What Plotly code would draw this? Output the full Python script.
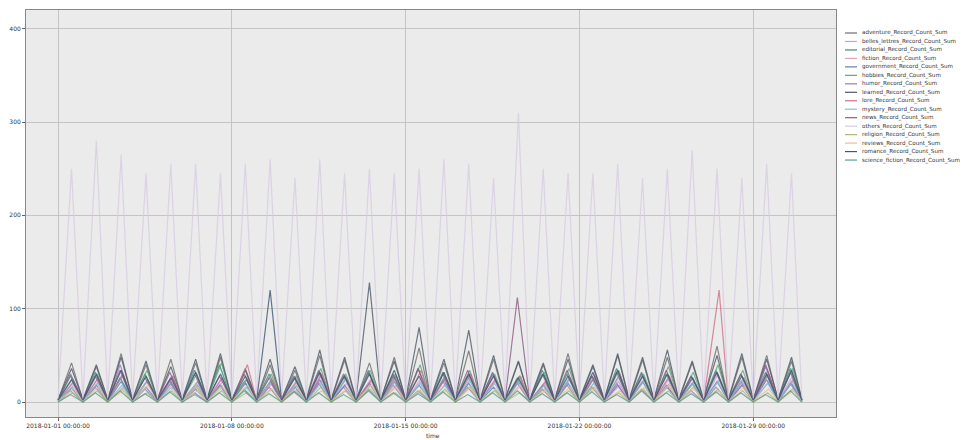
import plotly.graph_objects as go
import pandas as pd

# ---- data (daily peaks per series, Jan 1 .. Jan 30 2018) ----
days = pd.date_range("2018-01-01", periods=30, freq="D")
end_time = "2018-01-30 23:00:00"

series_names = [
    "adventure_Record_Count_Sum", "belles_lettres_Record_Count_Sum", "editorial_Record_Count_Sum",
    "fiction_Record_Count_Sum", "government_Record_Count_Sum", "hobbies_Record_Count_Sum",
    "humor_Record_Count_Sum", "learned_Record_Count_Sum", "lore_Record_Count_Sum",
    "mystery_Record_Count_Sum", "news_Record_Count_Sum", "others_Record_Count_Sum",
    "religion_Record_Count_Sum", "reviews_Record_Count_Sum", "romance_Record_Count_Sum",
    "science_fiction_Record_Count_Sum",
]

adventure = [42,38,52,40,46,42,48,36,40,34,50,45,42,48,58,42,55,46,43,40,52,38,50,45,48,42,60,48,50,44]
belles_lettres = [20,25,30,22,28,18,26,24,20,22,30,26,24,28,22,26,30,24,28,20,26,30,22,28,24,26,30,22,34,28]
editorial = [28,32,26,30,24,34,40,22,30,26,32,28,34,30,36,32,28,30,26,34,30,28,36,32,30,28,34,30,32,36]
fiction = [18,22,16,24,20,18,22,26,20,18,24,20,22,18,26,20,24,22,18,20,26,22,18,24,20,22,24,20,22,26]
government = [15,18,22,16,20,14,18,20,22,16,24,18,20,22,18,24,20,16,22,18,20,24,18,22,16,20,22,18,24,20]
hobbies = [25,30,28,34,26,30,42,24,30,28,36,30,34,30,40,28,34,30,28,32,36,26,34,30,38,32,40,34,30,36]
humor = [12,16,40,14,22,10,18,14,16,12,20,16,14,18,12,22,16,30,20,14,18,16,20,14,18,12,16,22,38,20]
learned = [36,40,48,44,38,46,52,34,46,38,56,48,128,44,80,46,77,50,44,42,46,40,52,48,56,44,50,52,46,48]
lore = [22,26,30,24,28,22,26,40,24,22,30,26,24,28,34,26,30,24,28,22,26,28,30,24,28,22,120,26,30,24]
mystery = [16,20,18,22,16,20,18,16,22,18,20,24,18,22,20,18,24,20,22,18,24,20,26,22,18,20,22,24,20,22]
news = [30,28,34,26,32,30,28,30,26,28,34,30,32,28,36,30,34,32,112,30,34,28,32,30,34,28,32,30,40,32]
others = [250,280,265,245,255,255,245,255,260,240,260,245,250,245,250,260,255,240,310,250,245,245,255,240,250,270,250,240,255,245]
religion = [10,12,14,10,12,16,12,10,14,12,16,12,14,10,12,14,16,12,10,14,12,16,10,14,12,16,14,12,10,14]
reviews = [14,16,12,18,14,12,16,18,14,16,12,14,18,16,14,12,16,14,18,12,16,14,12,16,18,14,12,16,14,12]
romance = [24,30,34,28,26,32,30,28,120,26,32,28,30,34,28,32,30,28,26,30,28,32,34,28,30,26,32,28,30,34]
science_fiction = [8,10,12,9,11,8,10,12,9,11,10,8,12,10,9,11,8,10,12,9,10,11,8,12,10,9,11,10,8,12]

peaks = [adventure, belles_lettres, editorial, fiction, government, hobbies, humor, learned,
         lore, mystery, news, others, religion, reviews, romance, science_fiction]
troughs = [2, 1, 2, 1, 1, 2, 0, 3, 1, 1, 2, 3, 0, 1, 2, 0]
peak_hours = [13, 14, 12, 15, 13, 14, 12, 13, 15, 14, 12, 13, 14, 15, 13, 12]

colors = ["#6e6e6e", "#c9a0dc", "#3f8a78", "#e8a0b8", "#5b7fc0", "#5caa7a", "#9a78c0", "#4d5a6a",
          "#d0708a", "#7cc4d0", "#8c5c88", "#d9cce4", "#a8bc78", "#e8c08c", "#3a5878", "#58a090"]

fig = go.Figure()
for name, pk, tr, ph, col in zip(series_names, peaks, troughs, peak_hours, colors):
    xs, ys = [], []
    for d, p in zip(days, pk):
        xs += [d, d + pd.Timedelta(hours=ph)]
        ys += [tr, p]
    xs.append(pd.Timestamp(end_time))
    ys.append(tr)
    fig.add_trace(go.Scatter(x=xs, y=ys, mode="lines", name=name, showlegend=False,
                             line=dict(color=col, width=1.2), opacity=0.8))

# page layout (page has an 8px body margin, so the figure is offset by 8px)
OFF = 8
PL, PR, PT, PB = 26, 836, 10, 417          # plot area in page pixels
W, H = 974 - OFF, 440 - OFF
pw, ph_ = PR - PL, PB - PT

def px(X):
    return (X - PL) / pw

def py(Y):
    return (PB - Y) / ph_

leg_top, leg_step = 33, 8.47
shapes, annos = [], []
for i, (name, col) in enumerate(zip(series_names, colors)):
    ypix = leg_top + i * leg_step
    shapes.append(dict(type="line", xref="paper", yref="paper",
                       x0=px(845), x1=px(857), y0=py(ypix), y1=py(ypix),
                       line=dict(color=col, width=1.2)))
    annos.append(dict(xref="paper", yref="paper", x=px(860), y=py(ypix),
                      xanchor="left", yanchor="middle", text=name, showarrow=False,
                      font=dict(size=5.6, color="#333")))
annos.append(dict(xref="paper", yref="paper", x=px(433), y=py(435),
                  xanchor="center", yanchor="middle", text="time", showarrow=False,
                  font=dict(size=6, color="#333")))

tickvals = pd.date_range("2018-01-01", periods=5, freq="7D")
fig.update_layout(
    width=W, height=H,
    margin=dict(l=PL - OFF, r=974 - PR, t=PT - OFF, b=440 - PB, autoexpand=False),
    paper_bgcolor="white", plot_bgcolor="#ebebeb",
    font=dict(family="DejaVu Sans", size=6, color="#333"),
    showlegend=False,
    shapes=shapes, annotations=annos,
    xaxis=dict(range=["2017-12-30 17:00", "2018-02-01 08:00"], tickvals=tickvals,
               ticktext=[t.strftime("%Y-%m-%d %H:%M:%S") for t in tickvals],
               showgrid=True, gridcolor="#c4c4c4", gridwidth=1,
               ticks="outside", ticklen=3, tickcolor="#666",
               tickfont=dict(size=6, color="#333"),
               showline=True, linecolor="#888", mirror=True),
    yaxis=dict(range=[-16, 420], tickvals=[0, 100, 200, 300, 400],
               showgrid=True, gridcolor="#c4c4c4", gridwidth=1, zeroline=False,
               ticks="outside", ticklen=3, tickcolor="#666",
               tickfont=dict(size=6, color="#333"),
               showline=True, linecolor="#888", mirror=True),
)
fig.write_html("out.html")
